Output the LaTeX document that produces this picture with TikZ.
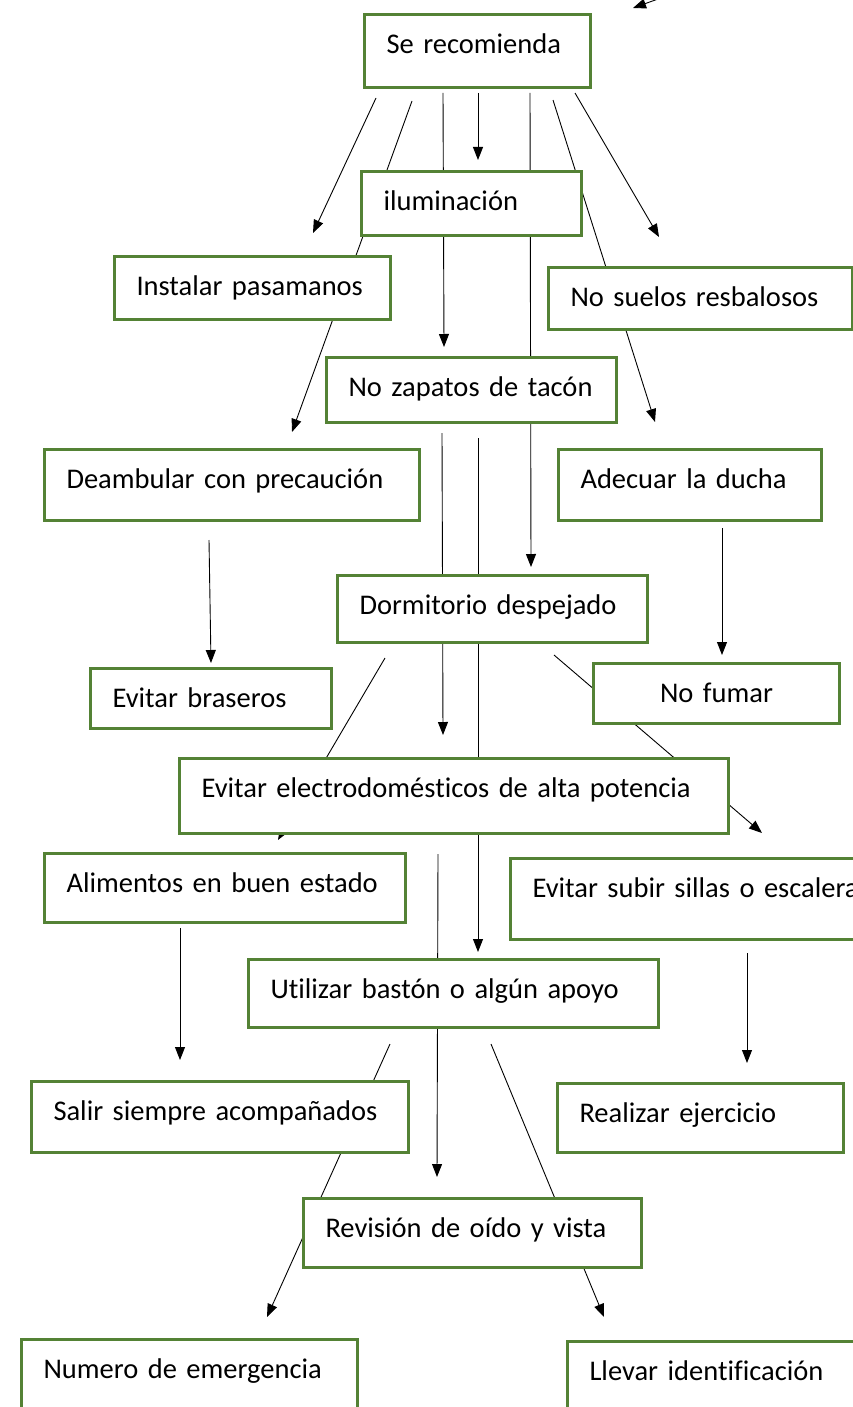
\documentclass[tikz,border=0pt]{standalone}
\usepackage{fontspec}
\setmainfont{Carlito}[Ligatures=NoCommon]
\usetikzlibrary{arrows.meta}
\definecolor{boxgreen}{RGB}{84,130,53}

\begin{document}
\begin{tikzpicture}[x=1pt, y=-1pt,
            box/.style = {draw=boxgreen, line width=3pt, fill=white, anchor=north west,
                          inner xsep=22pt, inner ysep=0pt, text height=39pt, align=left,
                          font=\fontsize{28.5}{34}\selectfont},
            arr/.style = {-{Triangle[length=13pt,width=10pt]}, line width=0.9pt}
                        ]
            \useasboundingbox (0,0) rectangle (853,1407);
            \clip (0,0) rectangle (853,1407);
            % end points of the arrows
            \coordinate (in0) at (672,-6);   \coordinate (in1) at (633,8);
            \coordinate (a1s) at (376,98);   \coordinate (a1e) at (313,233);
            \coordinate (a2s) at (412,101);  \coordinate (a2e) at (292,432);
            \coordinate (a3s) at (443,93);   \coordinate (a3e) at (444,347);
            \coordinate (a4s) at (478,93);   \coordinate (a4e) at (478,160);
            \coordinate (a5s) at (530,93);   \coordinate (a5e) at (531,567);
            \coordinate (a6s) at (553,100);  \coordinate (a6e) at (655,422);
            \coordinate (a7s) at (575,93);   \coordinate (a7e) at (659,237);
            \coordinate (b1s) at (442,433);  \coordinate (b1e) at (443,735);
            \coordinate (b2s) at (478,438);  \coordinate (b2e) at (478,952);
            \coordinate (c1s) at (209,540);  \coordinate (c1e) at (211,663);
            \coordinate (c2s) at (722,528);  \coordinate (c2e) at (722,655);
            \coordinate (d1s) at (385,658);  \coordinate (d1e) at (278,840);
            \coordinate (d2s) at (554,655);  \coordinate (d2e) at (762,833);
            \coordinate (e1s) at (438,854);  \coordinate (e1e) at (437,1177);
            \coordinate (e2s) at (180,928);  \coordinate (e2e) at (180,1060);
            \coordinate (e3s) at (747,953);  \coordinate (e3e) at (747,1063);
            \coordinate (f1s) at (390,1044); \coordinate (f1e) at (267,1317);
            \coordinate (f2s) at (491,1044); \coordinate (f2e) at (604,1317);
            % arrows (behind the boxes)
            \draw[arr] (in0) -- (in1);
            \foreach \a in {a1,a2,a3,a4,a5,a6,a7,b1,b2,c1,c2,d1,d2,e1,e2,e3,f1,f2}
                \draw[arr] (\a s) -- (\a e);
            % boxes
            \node[box, text width=182pt, text depth=34pt] (recom) at (363,13) {Se recomienda};
            \node[box, text width=176pt, text depth=25pt] (ilum) at (360,170) {iluminación};
            \node[box, text width=232pt, text depth=24pt] (pasam) at (113,255) {Instalar pasamanos};
            \node[box, text width=260pt, text depth=23pt] (suelos) at (547,266) {No suelos resbalosos};
            \node[box, text width=246pt, text depth=26pt] (zapatos) at (325,356) {No zapatos de tacón};
            \node[box, text width=331pt, text depth=32pt] (deamb) at (43,448) {Deambular con precaución};
            \node[box, text width=219pt, text depth=32pt] (ducha) at (557,448) {Adecuar la ducha};
            \node[box, text width=266pt, text depth=28pt] (dormit) at (336,574) {Dormitorio despejado};
            \node[box, text width=197pt, text depth=21pt] (braser) at (89,667) {Evitar braseros};
            \node[box, text width=202pt, text depth=21pt, align=center] (fumar) at (592,662) {No fumar};
            \node[box, text width=505pt, text depth=36pt] (electro) at (178,757) {Evitar electrodomésticos de alta potencia};
            \node[box, text width=317pt, text depth=30pt] (alim) at (43,852) {Alimentos en buen estado};
            \node[box, text width=396pt, text depth=42pt] (escal) at (509,857) {Evitar subir sillas o escaleras};
            \node[box, text width=366pt, text depth=29pt] (baston) at (247,958) {Utilizar bastón o algún apoyo};
            \node[box, text width=333pt, text depth=32pt] (salir) at (30,1080) {Salir siempre acompañados};
            \node[box, text width=242pt, text depth=30pt] (ejerc) at (556,1082) {Realizar ejercicio};
            \node[box, text width=294pt, text depth=30pt] (revis) at (302,1197) {Revisión de oído y vista};
            \node[box, text width=292pt, text depth=41pt] (emerg) at (20,1338) {Numero de emergencia};
            \node[box, text width=256pt, text depth=41pt] (ident) at (566,1340) {Llevar identificación};
\end{tikzpicture}
\end{document}
